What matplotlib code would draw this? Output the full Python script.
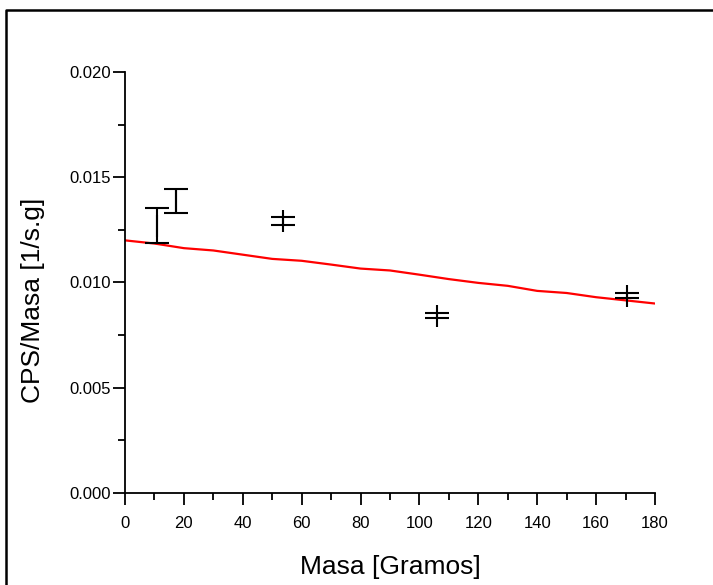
import matplotlib
matplotlib.use("Agg")
import matplotlib.pyplot as plt
from matplotlib.lines import Line2D
from matplotlib.ticker import MultipleLocator, FormatStrFormatter

plt.rcParams['font.family'] = ['Liberation Sans', 'DejaVu Sans']

# measured points (mass in g, counts per second per gram)
masa = [11, 17.3, 53.7, 106, 170.5]
cps_masa = [0.0127, 0.01387, 0.01292, 0.00843, 0.00938]
err_cps = [0.00083, 0.00057, 0.00019, 0.00012, 0.00012]

# fitted curve (red)
fit_x = [0, 10, 20, 30, 40, 50, 60, 70, 80, 90, 100, 110, 120, 130, 140, 150, 160, 170, 180]
fit_y = [0.01200, 0.01185, 0.01163, 0.01152, 0.01132, 0.01112, 0.01103, 0.01085,
         0.01066, 0.01057, 0.01037, 0.01016, 0.00998, 0.00984, 0.00960, 0.00950,
         0.00930, 0.00915, 0.00900]

fig = plt.figure(figsize=(7.13, 5.85), dpi=100)
ax = fig.add_axes([0.1753, 0.1573, 0.7433, 0.7197])

ax.plot(fit_x, fit_y, color="red", lw=1.6, zorder=2)
ax.errorbar(masa, cps_masa, yerr=err_cps, fmt="|", color="black", ms=16.5,
            mew=1.5, elinewidth=1.5, capsize=8.6, capthick=1.5, zorder=3)

ax.set_xlim(0, 180)
ax.set_ylim(0, 0.020)
ax.xaxis.set_major_locator(MultipleLocator(20))
ax.xaxis.set_minor_locator(MultipleLocator(10))
ax.yaxis.set_major_locator(MultipleLocator(0.005))
ax.yaxis.set_minor_locator(MultipleLocator(0.0025))
ax.yaxis.set_major_formatter(FormatStrFormatter("%.3f"))

for s in ["top", "right"]:
    ax.spines[s].set_visible(False)
for s in ["left", "bottom"]:
    ax.spines[s].set_linewidth(1.3)

ax.tick_params(which="major", direction="out", length=8.5, width=1.3, labelsize=12)
ax.tick_params(which="minor", direction="out", length=5, width=1.3)
ax.tick_params(axis="y", which="major", pad=1.5)
ax.tick_params(axis="x", which="major", pad=8)

ax.set_xlabel("Masa [Gramos]", fontsize=19, labelpad=17)
ax.set_ylabel("CPS/Masa [1/s.g]", fontsize=19)
ax.yaxis.set_label_coords(-0.151, 0.458)

# outer frame (only left and top visible)
fig.add_artist(Line2D([6 / 713, 6 / 713, 1.0], [0.0, 1 - 10 / 585, 1 - 10 / 585],
                      transform=fig.transFigure, color="black", lw=1.8))

fig.savefig("out.png", dpi=100)
